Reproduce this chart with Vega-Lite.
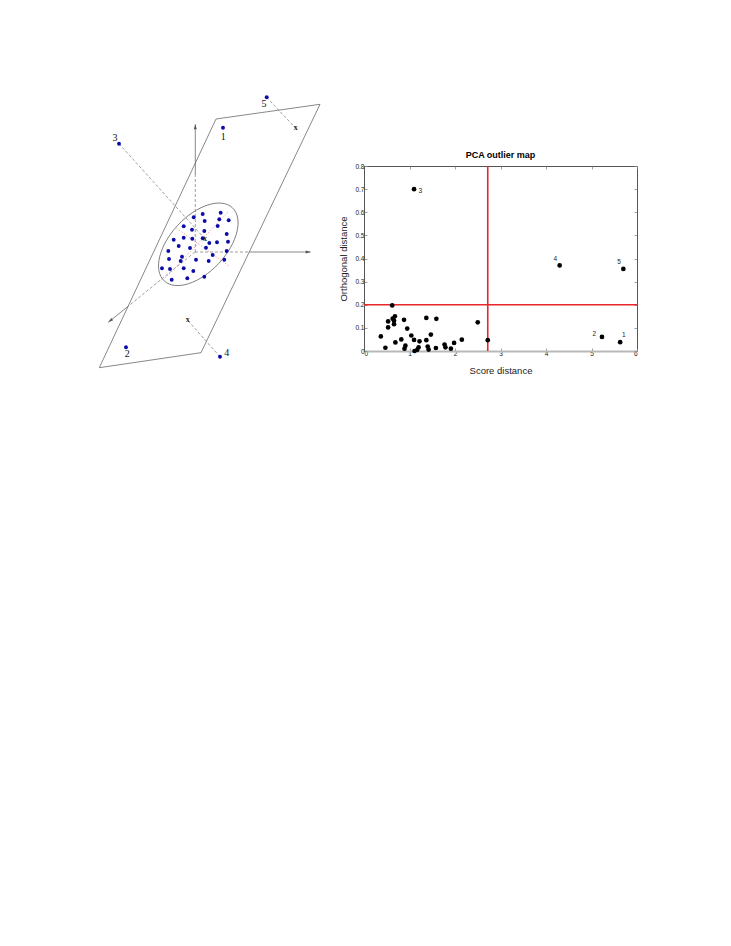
{
  "$schema": "https://vega.github.io/schema/vega-lite/v6.json",
  "background": "white",
  "padding": {"left": 97, "top": 95, "right": 10, "bottom": 10},
  "autosize": {"type": "pad"},
  "bounds": "flush",
  "spacing": 43,
  "config": {
    "font": "Liberation Sans",
    "view": {"stroke": null},
    "axis": {"grid": false}
  },
  "hconcat": [
    {
      "width": 222,
      "height": 185,
      "encoding": {
        "x": {"field": "u", "type": "quantitative", "scale": {"domain": [-96, 126], "nice": false, "zero": false}, "axis": null},
        "y": {"field": "v", "type": "quantitative", "scale": {"domain": [-99, 86], "nice": false, "zero": false}, "axis": null}
      },
      "layer": [
        {
          "data": {"values": [
            {"u": 21, "v": 133, "k": 0},
            {"u": 125, "v": 147.7, "k": 1},
            {"u": 6, "v": -100.7, "k": 2},
            {"u": -95.7, "v": -115.7, "k": 3},
            {"u": 21, "v": 133, "k": 4}
          ]},
          "mark": {"type": "line", "stroke": "#6a6a6a", "strokeWidth": 0.8},
          "encoding": {"order": {"field": "k", "type": "quantitative"}}
        },
        {
          "data": {"values": [
            {"u": 0.3, "v": 77, "u2": 0.3, "v2": 127.7},
            {"u": 54, "v": 0, "u2": 115.7, "v2": 0},
            {"u": -66.9, "v": -54.3, "u2": -86.7, "v2": -70.3}
          ]},
          "mark": {"type": "rule", "stroke": "#6a6a6a", "strokeWidth": 0.8},
          "encoding": {"x2": {"field": "u2"}, "y2": {"field": "v2"}}
        },
        {
          "data": {"values": [
            {"u": 0.3, "v": 0, "u2": 0.3, "v2": 77},
            {"u": 0, "v": 0, "u2": 54, "v2": 0},
            {"u": 0, "v": 0, "u2": -66.9, "v2": -54.3},
            {"u": 71.7, "v": 154.7, "u2": 100.7, "v2": 123.7},
            {"u": 25, "v": -104.7, "u2": -7.3, "v2": -68.3},
            {"u": -76, "v": 108.3, "u2": 10, "v2": 13}
          ]},
          "mark": {"type": "rule", "stroke": "#777777", "strokeWidth": 0.7, "strokeDash": [3, 2]},
          "encoding": {"x2": {"field": "u2"}, "y2": {"field": "v2"}}
        },
        {
          "data": {"values": [
            {"u": -30, "v": -26.3, "u2": 33.3, "v2": 40.3},
            {"u": -18.3, "v": 23.7, "u2": 35, "v2": -14.7}
          ]},
          "mark": {"type": "rule", "stroke": "#ee6666", "strokeWidth": 0.8, "strokeDash": [1, 2]},
          "encoding": {"x2": {"field": "u2"}, "y2": {"field": "v2"}}
        },
        {
          "data": {"values": [
            {"u": 0.3, "v": 127.7, "dir": 0},
            {"u": 115.7, "v": 0, "dir": 90},
            {"u": -86.7, "v": -70.3, "dir": 231}
          ]},
          "mark": {"type": "point", "shape": "M0,0 L0.6,2 L-0.6,2 Z", "filled": true, "color": "#555555", "size": 25, "opacity": 1},
          "encoding": {"angle": {"field": "dir", "type": "quantitative", "scale": null}}
        },
        {
          "data": {"values": [{"u": 3.3, "v": 7.7}]},
          "mark": {"type": "point", "shape": "M-1,0 A1,0.56 0 1,0 1,0 A1,0.56 0 1,0 -1,0 Z", "filled": false, "stroke": "#6a6a6a", "strokeWidth": 0.8, "size": 10000, "angle": 313, "opacity": 1}
        },
        {
          "data": {"values": [
            {"u": 7.7, "v": 38}, {"u": 25.7, "v": 39.3}, {"u": -1.3, "v": 34.7}, {"u": 9.7, "v": 31},
            {"u": 24.3, "v": 32.7}, {"u": 33.7, "v": 31.7}, {"u": -11.3, "v": 25.7}, {"u": 22.7, "v": 26},
            {"u": -3, "v": 22.3}, {"u": 9.3, "v": 21}, {"u": -21.3, "v": 12.3}, {"u": -2.7, "v": 13.3},
            {"u": 31.7, "v": 18}, {"u": 22, "v": 9.7}, {"u": -16.3, "v": 6}, {"u": -5, "v": 4},
            {"u": 11, "v": 4.3}, {"u": 14.3, "v": 9}, {"u": -26.7, "v": 1}, {"u": 31.7, "v": 1},
            {"u": -13, "v": -4.7}, {"u": 17.7, "v": -3}, {"u": -26, "v": -7}, {"u": -14.3, "v": -9},
            {"u": 1, "v": -7.7}, {"u": 13.7, "v": -9}, {"u": 29.3, "v": -7.7}, {"u": -33, "v": -16.3},
            {"u": -25, "v": -17}, {"u": -11.3, "v": -16.3}, {"u": -1.7, "v": -19}, {"u": -23.3, "v": -27.7},
            {"u": -7.7, "v": -26.3}, {"u": 9.3, "v": -24.7}, {"u": 7.7, "v": 13.7}, {"u": -11.3, "v": 14.3},
            {"u": 33, "v": 10.3},
            {"u": 71.7, "v": 154.7}, {"u": 28, "v": 124.3}, {"u": -76, "v": 108.3},
            {"u": -69, "v": -95.3}, {"u": 25, "v": -104.7}
          ]},
          "mark": {"type": "circle", "size": 15, "color": "#0b0bab", "opacity": 1}
        },
        {
          "data": {"values": [
            {"id": "5", "lu": 69, "lv": 148},
            {"id": "1", "lu": 28.3, "lv": 115.3},
            {"id": "3", "lu": -80, "lv": 113.7},
            {"id": "2", "lu": -67.7, "lv": -102.3},
            {"id": "4", "lu": 31.7, "lv": -100.7}
          ]},
          "mark": {"type": "text", "font": "Liberation Serif", "fontSize": 10, "align": "center", "baseline": "middle", "color": "#111111"},
          "encoding": {
            "x": {"field": "lu", "type": "quantitative"},
            "y": {"field": "lv", "type": "quantitative"},
            "text": {"field": "id"}
          }
        },
        {
          "data": {"values": [
            {"u": 100.7, "v": 123.7, "m": "x"},
            {"u": -7.3, "v": -68.3, "m": "x"},
            {"u": 10, "v": 13, "m": "x"}
          ]},
          "mark": {"type": "text", "font": "Liberation Serif", "fontSize": 8, "fontWeight": "bold", "align": "center", "baseline": "middle", "color": "#222222"},
          "encoding": {"text": {"field": "m"}}
        }
      ]
    },
    {
      "width": 273,
      "height": 185,
      "view": {"stroke": "#555555", "strokeWidth": 1},
      "title": {"text": "PCA outlier map", "font": "Liberation Sans", "fontSize": 9, "fontWeight": "bold", "anchor": "middle", "offset": -4, "baseline": "alphabetic", "color": "black"},
      "data": {"values": [
        {"sd": 1.1, "od": 0.70, "id": "3"},
        {"sd": 4.30, "od": 0.37, "id": "4"},
        {"sd": 5.70, "od": 0.355, "id": "5"},
        {"sd": 5.23, "od": 0.061, "id": "2"},
        {"sd": 5.63, "od": 0.038, "id": "1"},
        {"sd": 0.37, "od": 0.063, "id": ""},
        {"sd": 0.47, "od": 0.014, "id": ""},
        {"sd": 0.53, "od": 0.128, "id": ""},
        {"sd": 0.53, "od": 0.102, "id": ""},
        {"sd": 0.62, "od": 0.197, "id": ""},
        {"sd": 0.63, "od": 0.140, "id": ""},
        {"sd": 0.68, "od": 0.150, "id": ""},
        {"sd": 0.66, "od": 0.131, "id": ""},
        {"sd": 0.66, "od": 0.116, "id": ""},
        {"sd": 0.69, "od": 0.037, "id": ""},
        {"sd": 0.82, "od": 0.050, "id": ""},
        {"sd": 0.88, "od": 0.135, "id": ""},
        {"sd": 0.95, "od": 0.097, "id": ""},
        {"sd": 0.89, "od": 0.010, "id": ""},
        {"sd": 0.91, "od": 0.023, "id": ""},
        {"sd": 1.04, "od": 0.067, "id": ""},
        {"sd": 1.10, "od": 0.048, "id": ""},
        {"sd": 1.11, "od": 0.0, "id": ""},
        {"sd": 1.17, "od": 0.005, "id": ""},
        {"sd": 1.20, "od": 0.016, "id": ""},
        {"sd": 1.22, "od": 0.042, "id": ""},
        {"sd": 1.37, "od": 0.143, "id": ""},
        {"sd": 1.37, "od": 0.047, "id": ""},
        {"sd": 1.40, "od": 0.019, "id": ""},
        {"sd": 1.42, "od": 0.006, "id": ""},
        {"sd": 1.47, "od": 0.071, "id": ""},
        {"sd": 1.59, "od": 0.139, "id": ""},
        {"sd": 1.58, "od": 0.013, "id": ""},
        {"sd": 1.77, "od": 0.028, "id": ""},
        {"sd": 1.79, "od": 0.016, "id": ""},
        {"sd": 1.91, "od": 0.010, "id": ""},
        {"sd": 1.98, "od": 0.035, "id": ""},
        {"sd": 2.15, "od": 0.049, "id": ""},
        {"sd": 2.50, "od": 0.124, "id": ""},
        {"sd": 2.72, "od": 0.047, "id": ""}
      ]},
      "layer": [
        {
          "data": {"values": [{"cut": 2.72}]},
          "mark": {"type": "rule", "color": "#e8262b", "strokeWidth": 1.6},
          "encoding": {
            "x": {"field": "cut", "type": "quantitative", "scale": {"domain": [0, 6], "nice": false, "zero": false},
              "axis": {"orient": "top", "title": null, "labels": false, "domain": false, "values": [0, 1, 2, 3, 4, 5, 6], "tickSize": -3, "tickColor": "#888888", "tickWidth": 0.8}}
          }
        },
        {
          "data": {"values": [{"cut": 0.2}]},
          "mark": {"type": "rule", "color": "#e8262b", "strokeWidth": 1.6},
          "encoding": {
            "y": {"field": "cut", "type": "quantitative", "scale": {"domain": [0, 0.8], "nice": false, "zero": false},
              "axis": {"orient": "right", "title": null, "labels": false, "domain": false, "values": [0, 0.1, 0.2, 0.3, 0.4, 0.5, 0.6, 0.7, 0.8], "tickSize": -3, "tickColor": "#888888", "tickWidth": 0.8}}
          }
        },
        {
          "mark": {"type": "circle", "size": 22, "color": "black", "opacity": 1},
          "encoding": {
            "x": {"field": "sd", "type": "quantitative", "scale": {"domain": [0, 6], "nice": false, "zero": false},
              "axis": {"orient": "bottom", "title": "Score distance", "values": [0, 1, 2, 3, 4, 5, 6], "format": "d",
                "labelFontSize": 6.5, "labelColor": "#222222", "labelPadding": 2, "tickSize": -3, "tickColor": "#888888", "tickWidth": 0.8,
                "domainColor": "#b8b8b8", "domainWidth": 2, "titleFontSize": 9.5, "titleFontWeight": "normal", "titleColor": "#222222", "titlePadding": 9}},
            "y": {"field": "od", "type": "quantitative", "scale": {"domain": [0, 0.8], "nice": false, "zero": false},
              "axis": {"orient": "left", "title": "Orthogonal distance", "values": [0, 0.1, 0.2, 0.3, 0.4, 0.5, 0.6, 0.7, 0.8], "format": "~g",
                "labelFontSize": 6.5, "labelColor": "#222222", "labelPadding": 3, "tickSize": -3, "tickColor": "#888888", "tickWidth": 0.8,
                "domainColor": "#555555", "domainWidth": 1, "titleFontSize": 9.5, "titleFontWeight": "normal", "titleColor": "#222222", "titlePadding": 6}}
          }
        },
        {
          "transform": [{"filter": "datum.id == '3'"}],
          "mark": {"type": "text", "fontSize": 6.5, "dx": 6.3, "dy": 2.3, "align": "center", "baseline": "middle", "color": "#222222"},
          "encoding": {
            "x": {"field": "sd", "type": "quantitative", "axis": null},
            "y": {"field": "od", "type": "quantitative", "axis": null},
            "text": {"field": "id"}
          }
        },
        {
          "transform": [{"filter": "datum.id == '4' || datum.id == '5'"}],
          "mark": {"type": "text", "fontSize": 6.5, "dx": -4.4, "dy": -6.7, "align": "center", "baseline": "middle", "color": "#222222"},
          "encoding": {
            "x": {"field": "sd", "type": "quantitative", "axis": null},
            "y": {"field": "od", "type": "quantitative", "axis": null},
            "text": {"field": "id"}
          }
        },
        {
          "transform": [{"filter": "datum.id == '2'"}],
          "mark": {"type": "text", "fontSize": 6.5, "dx": -7.7, "dy": -3.3, "align": "center", "baseline": "middle", "color": "#222222"},
          "encoding": {
            "x": {"field": "sd", "type": "quantitative", "axis": null},
            "y": {"field": "od", "type": "quantitative", "axis": null},
            "text": {"field": "id"}
          }
        },
        {
          "transform": [{"filter": "datum.id == '1'"}],
          "mark": {"type": "text", "fontSize": 6.5, "dx": 3.7, "dy": -7, "align": "center", "baseline": "middle", "color": "#222222"},
          "encoding": {
            "x": {"field": "sd", "type": "quantitative", "axis": null},
            "y": {"field": "od", "type": "quantitative", "axis": null},
            "text": {"field": "id"}
          }
        }
      ],
      "resolve": {"axis": {"x": "independent", "y": "independent"}}
    }
  ]
}
